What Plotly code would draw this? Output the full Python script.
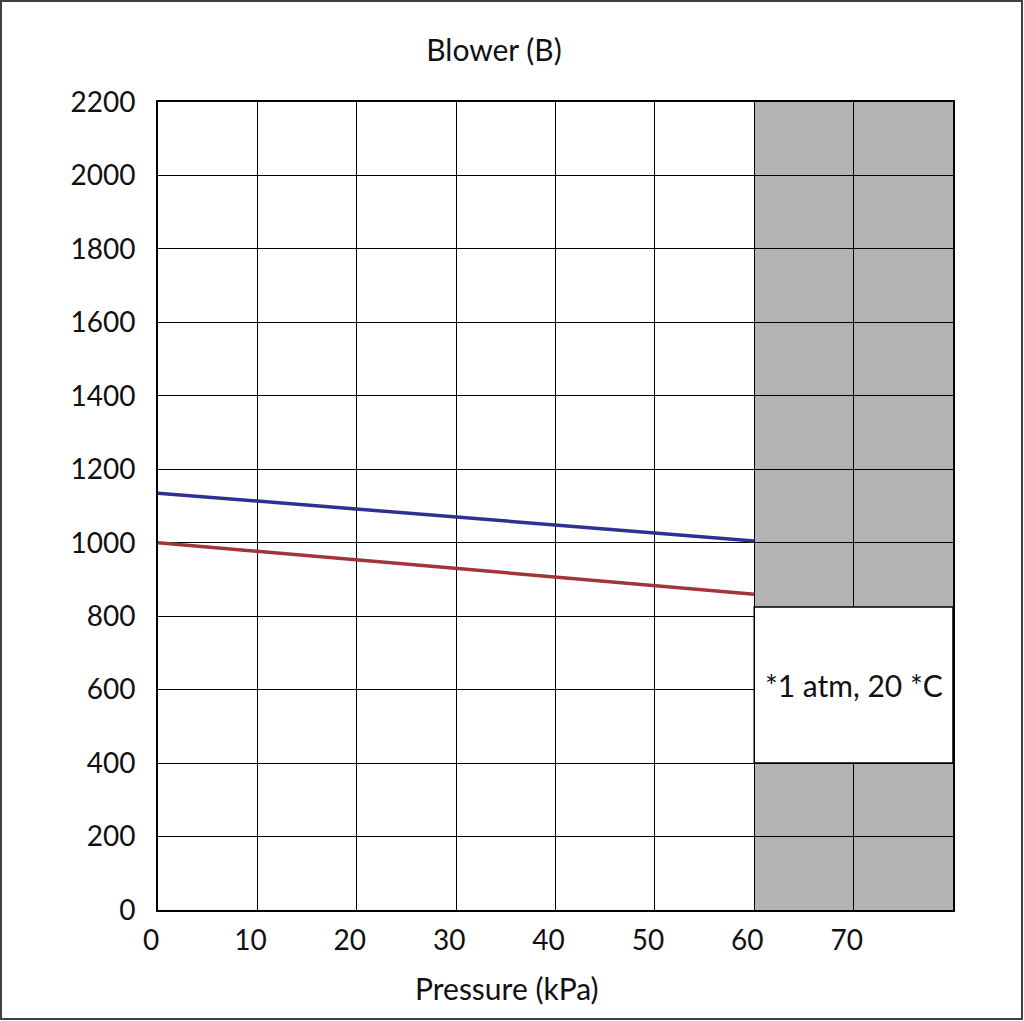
import plotly.graph_objects as go

pressure = [0, 60]
blue_flow = [1135, 1005]
red_flow = [1000, 860]
x_ticks = [0, 10, 20, 30, 40, 50, 60, 70]
y_ticks = [0, 200, 400, 600, 800, 1000, 1200, 1400, 1600, 1800, 2000, 2200]
shade_from = 60
box_low, box_high = 400, 825
note = "*1 atm, 20 *C"

FONT = "Lato"
W, H = 1024, 1021
L, R, T, B = 158, 71, 102, 111

fig = go.Figure()
fig.add_trace(go.Scatter(x=pressure, y=blue_flow, mode="lines",
                         line=dict(color="#2E3192", width=3.5), showlegend=False))
fig.add_trace(go.Scatter(x=pressure, y=red_flow, mode="lines",
                         line=dict(color="#A0353A", width=3.5), showlegend=False))

# grey region right of 60 kPa, under the grid
fig.add_shape(type="rect", xref="x", yref="y", x0=shade_from, x1=80, y0=0, y1=2200,
              fillcolor="#B3B3B3", line_width=0, layer="below")
# white note box on top
fig.add_shape(type="rect", xref="x", yref="y", x0=shade_from, x1=80, y0=box_low, y1=box_high,
              fillcolor="white", line=dict(color="black", width=1.5), layer="above")
fig.add_annotation(x=70, y=(box_low + box_high) / 2, xref="x", yref="y", text=note,
                   showarrow=False, font=dict(family=FONT, size=30, color="#111"))

# x axis title, sits a bit left of centre in the original
pw, ph = W - L - R, H - T - B
fig.add_annotation(x=(507 - L) / pw, y=(H - B - 988) / ph,
                   xref="paper", yref="paper", text="Pressure (kPa)", showarrow=False,
                   yanchor="middle", font=dict(family=FONT, size=30, color="#111"))

# outer frame
fig.add_shape(type="rect", xref="paper", yref="paper",
              x0=(1 - L) / pw, x1=(W - 2 - L) / pw,
              y0=-(B - 2) / ph, y1=(H - B - 1) / ph,
              line=dict(color="#404040", width=2), fillcolor="rgba(0,0,0,0)")

fig.update_xaxes(range=[0, 80], tickvals=x_ticks, showgrid=True, gridcolor="black",
                 gridwidth=1.2, showline=True, linecolor="black", linewidth=2, mirror=True,
                 zeroline=False, ticks="", ticklabelstandoff=4, ticklabelshift=-7,
                 tickfont=dict(family=FONT, size=28, color="#111"))
fig.update_yaxes(range=[0, 2200], tickvals=y_ticks, showgrid=True, gridcolor="black",
                 gridwidth=1.2, showline=True, linecolor="black", linewidth=2, mirror=True,
                 zeroline=False, ticks="", ticklabelstandoff=15,
                 tickfont=dict(family=FONT, size=28, color="#111"))

fig.update_layout(
    width=W, height=H,
    margin=dict(l=L, r=R, t=T, b=B),
    paper_bgcolor="white", plot_bgcolor="white",
    title=dict(text="Blower (B)", xref="container", yref="container",
               x=494 / W, y=1 - 50 / H, xanchor="center", yanchor="middle",
               font=dict(family=FONT, size=30, color="#111")),
)

# drop the default page margin so the figure sits at the window corner
fig.write_html("out.html", config={"displayModeBar": False},
               post_script="document.body.style.margin='0';")
